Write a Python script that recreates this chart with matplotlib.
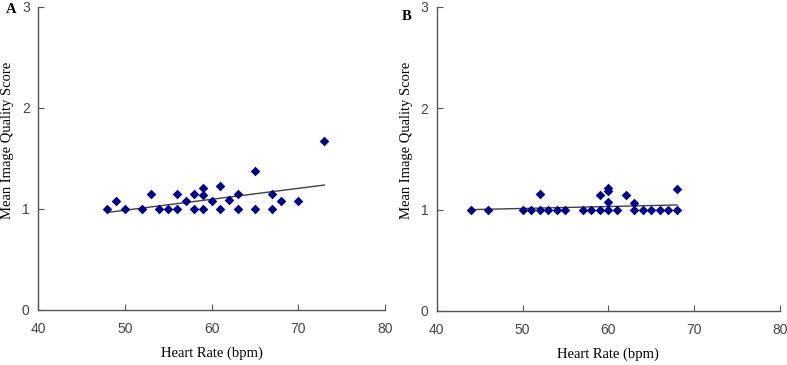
import numpy as np
import matplotlib
matplotlib.use("Agg")
import matplotlib.pyplot as plt

# Panel A: heart rate vs mean image quality score
hr_a = [48, 49, 50, 52, 53, 54, 55, 56, 56, 57, 58, 58, 59, 59, 59, 60,
        61, 61, 62, 63, 63, 65, 65, 67, 67, 68, 70, 73]
score_a = [1.0, 1.08, 1.0, 1.0, 1.15, 1.0, 1.0, 1.15, 1.0, 1.08, 1.15, 1.0,
           1.21, 1.14, 1.0, 1.08, 1.23, 1.0, 1.09, 1.15, 1.0, 1.38, 1.0,
           1.15, 1.0, 1.08, 1.08, 1.67]

# Panel B
hr_b = [44, 46, 50, 51, 52, 52, 53, 54, 55, 57, 58, 59, 59, 60, 60, 60, 60,
        61, 62, 63, 63, 64, 65, 66, 67, 68, 68]
score_b = [1.0, 1.0, 1.0, 1.0, 1.0, 1.15, 1.0, 1.0, 1.0, 1.0, 1.0, 1.0, 1.14,
           1.0, 1.08, 1.18, 1.21, 1.0, 1.14, 1.0, 1.07, 1.0, 1.0, 1.0, 1.0,
           1.0, 1.2]

# trend line end points
trend_a = [0.965, 1.236]
trend_b = [1.0, 1.046]

x_ticks = [40, 50, 60, 70, 80]
y_ticks = [0, 1, 2, 3]

fig = plt.figure(figsize=(7.87, 3.65), dpi=100)
ax_a = fig.add_axes([0.0483, 0.151, 0.441, 0.830])
ax_b = fig.add_axes([0.555, 0.148, 0.436, 0.833])

tick_font = {"family": "Liberation Sans", "size": 10}
lab_font = {"family": "Liberation Serif", "size": 10.5}

for ax, hr, sc, tr in [(ax_a, hr_a, score_a, trend_a),
                       (ax_b, hr_b, score_b, trend_b)]:
    ax.scatter(hr, sc, marker="D", s=24, color="#000080", zorder=3, linewidths=0)
    ax.plot([min(hr), max(hr)], tr, color="#404040", lw=1.0, zorder=2)
    ax.set_xlim(40, 80)
    ax.set_ylim(0, 3)
    ax.set_xticks(x_ticks)
    ax.set_yticks(y_ticks)
    ax.set_xticklabels([str(t) for t in x_ticks], fontdict=tick_font, color="#444444")
    ax.set_yticklabels([str(t) for t in y_ticks], fontdict=tick_font, color="#444444")
    ax.tick_params(direction="in", length=4, width=0.8, color="#555555")
    ax.tick_params(axis="x", pad=9)
    ax.tick_params(axis="y", pad=6)
    for s in ["top", "right"]:
        ax.spines[s].set_visible(False)
    for s in ["left", "bottom"]:
        ax.spines[s].set_color("#555555")
        ax.spines[s].set_linewidth(1.0)
    ax.set_xlabel("Heart Rate (bpm)", fontdict=lab_font, labelpad=7)
    ax.set_ylabel("Mean Image Quality Score", fontdict=lab_font)
    ax.yaxis.set_label_coords(-0.068, 0.56)

fig.text(0.008, 0.975, "A", fontsize=10.5, family="Liberation Serif",
         fontweight="bold", va="center")
fig.text(0.511, 0.955, "B", fontsize=10.5, family="Liberation Serif",
         fontweight="bold", va="center")

fig.savefig("out.png", dpi=100)
